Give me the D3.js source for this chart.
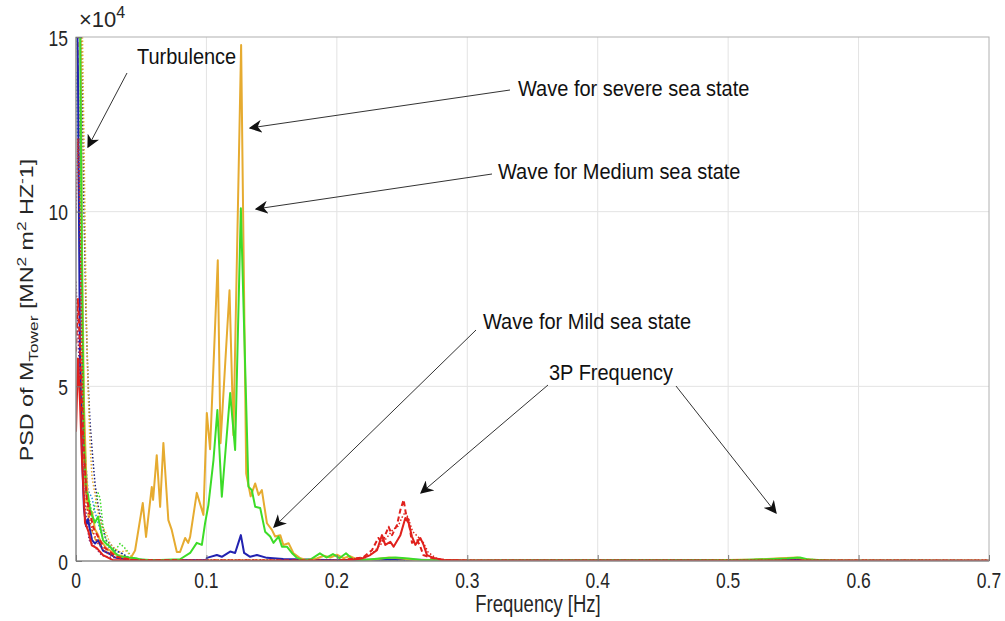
<!DOCTYPE html>
<html><head><meta charset="utf-8">
<script src="https://cdn.jsdelivr.net/npm/d3@7"></script>
<style>body{margin:0;background:#fff}svg{display:block;font-family:"Liberation Sans",Arial,sans-serif}</style>
</head><body><svg id="c" width="1005" height="621"></svg>
<script>
// values in units of 1e4 MN^2 m^2 Hz^-1
const xTicks = [0,0.1,0.2,0.3,0.4,0.5,0.6,0.7];
const yTicks = [0,5,10,15];

const severeF = [0,0.0015,0.003,0.0046,0.0061,0.0077,0.0092,0.0107,0.0123,0.0146,0.0169,0.0184,0.0207,0.023,0.0261,0.03,0.0338,0.0376,0.0414,0.0453,0.0512,0.0537,0.0581,0.0591,0.0619,0.0645,0.067,0.0708,0.0734,0.0773,0.0798,0.0837,0.086,0.0875,0.0926,0.0977,0.1003,0.1028,0.1087,0.1108,0.1177,0.1207,0.1266,0.1305,0.1339,0.1374,0.14,0.1425,0.1464,0.1502,0.1527,0.1566,0.159,0.163,0.1668,0.172,0.177,0.185,0.19,0.195,0.2,0.205,0.21,0.215,0.225,0.24,0.25,0.26,0.3,0.48,0.5,0.52,0.54,0.553,0.56,0.58,0.7];
const severeV = [22,24,18,9,4.5,2.6,1.7,1.3,1.4,0.9,0.75,0.6,0.5,0.38,0.3,0.2,0.12,0.1,0.05,0.3,1.66,0.69,2.12,1.75,3.03,1.55,3.38,1.17,0.89,0.26,0.26,0.66,0.52,0.69,1.95,1.32,4.24,3.2,8.61,3.37,7.75,3.6,14.77,2.5,1.85,2.22,1.89,2.03,1.08,0.89,0.7,0.74,0.46,0.51,0.22,0.08,0.02,0.08,0.15,0.1,0.18,0.08,0.14,0.05,0.03,0.1,0.07,0.03,0.01,0.01,0.03,0.04,0.08,0.1,0.04,0.01,0.01];

const mediumF = [0,0.0015,0.003,0.0046,0.0061,0.0077,0.0092,0.0107,0.0123,0.0146,0.0169,0.0184,0.0207,0.023,0.0261,0.03,0.0338,0.038,0.042,0.046,0.05,0.06,0.0798,0.0875,0.0926,0.0965,0.099,0.1015,0.1054,0.1084,0.1118,0.1182,0.122,0.1264,0.1322,0.1348,0.1374,0.1412,0.145,0.1489,0.1514,0.1553,0.1579,0.1617,0.1655,0.1694,0.1742,0.18,0.187,0.192,0.197,0.202,0.207,0.212,0.22,0.235,0.245,0.255,0.265,0.3,0.49,0.51,0.53,0.545,0.555,0.562,0.58,0.7];
const mediumV = [20,22,16,8,3.5,2.0,1.9,1.5,1.3,1.1,1.27,1.0,0.6,0.5,0.41,0.23,0.12,0.12,0.09,0.08,0.04,0.02,0.05,0.23,0.52,0.46,1.09,1.6,2.89,4.32,1.84,4.81,3.18,10.1,2.13,2.03,1.55,1.52,0.84,0.7,0.52,0.7,0.41,0.41,0.23,0.09,0.02,0.05,0.22,0.1,0.2,0.08,0.22,0.05,0.03,0.08,0.1,0.07,0.03,0.01,0.02,0.03,0.05,0.07,0.1,0.04,0.01,0.01];

const mildF = [0,0.0015,0.003,0.0046,0.0061,0.0077,0.0092,0.0107,0.0123,0.0146,0.0169,0.0207,0.026,0.03,0.04,0.06,0.1,0.1003,0.108,0.1118,0.1182,0.122,0.1264,0.1289,0.1335,0.1387,0.1464,0.1589,0.2,0.24,0.25,0.3,0.5,0.53,0.55,0.57,0.7];
const mildV = [18,14,6,3,1.5,1.0,1.2,0.9,0.6,0.5,0.6,0.3,0.2,0.1,0.04,0.02,0.02,0.09,0.17,0.12,0.27,0.23,0.74,0.23,0.12,0.17,0.09,0.06,0.02,0.04,0.04,0.01,0.02,0.03,0.05,0.01,0.005];

const noWaveF = [0,0.0015,0.003,0.0046,0.0069,0.0095,0.0121,0.016,0.0207,0.028,0.05,0.2,0.21,0.22,0.2256,0.2308,0.2346,0.2371,0.241,0.2435,0.2487,0.2525,0.255,0.2576,0.2602,0.264,0.2665,0.2691,0.2742,0.2817,0.3,0.7];
const noWaveV = [3.7,5.8,4.6,2.9,1.1,0.85,0.45,0.37,0.17,0.03,0.01,0.01,0.02,0.08,0.17,0.31,0.74,0.46,0.55,0.41,0.74,1.23,1.09,0.7,0.46,0.66,0.46,0.17,0.09,0.03,0.005,0.005];

const noWaveDashF = [0,0.0015,0.003,0.0056,0.0082,0.0133,0.021,0.031,0.045,0.2,0.22,0.2269,0.2318,0.2346,0.2397,0.2423,0.2461,0.2487,0.2512,0.2533,0.255,0.2576,0.2615,0.264,0.2663,0.272,0.283,0.3,0.7];
const noWaveDashV = [6,7.5,6.2,3.4,1.8,0.95,0.41,0.12,0.02,0.01,0.1,0.31,0.66,0.52,0.98,0.74,1.03,1.46,1.75,1.27,1.17,0.52,0.6,0.41,0.17,0.09,0.02,0.01,0.01];

const noWaveDotF = [0,0.0015,0.003,0.0046,0.0061,0.0077,0.0092,0.0123,0.0169,0.023,0.03,0.045,0.2,0.222,0.228,0.233,0.238,0.243,0.247,0.25,0.2525,0.255,0.258,0.262,0.266,0.27,0.276,0.285,0.3,0.7];
const noWaveDotV = [10,12.1,10,6,3.2,2.0,1.4,0.9,0.5,0.25,0.1,0.02,0.01,0.1,0.25,0.45,0.65,0.9,1.0,1.25,1.4,1.2,0.85,0.7,0.55,0.25,0.08,0.03,0.02,0.02];

const severeDotF = [0,0.003,0.0046,0.0061,0.0077,0.0092,0.0107,0.0123,0.0146,0.0169,0.02,0.023,0.0261,0.03,0.034,0.038,0.042,0.045,0.06,0.5,0.54,0.555,0.57,0.7];
const severeDotV = [20,19,16,12,7.5,5.0,3.4,2.4,1.9,1.4,1.0,0.8,0.5,0.35,0.25,0.3,0.15,0.05,0.02,0.02,0.06,0.08,0.02,0.01];

const severeDashF = [0,0.0015,0.003,0.0046,0.0061,0.0077,0.0107,0.015,0.02,0.025,0.03,0.035,0.04,0.05,0.7];
const severeDashV = [16,15,9,4.5,2.6,1.7,1.0,0.6,0.4,0.3,0.2,0.15,0.08,0.02,0.01];

const mildDotF = [0,0.003,0.0046,0.0061,0.0077,0.0092,0.0107,0.0123,0.0146,0.0169,0.0184,0.02,0.023,0.0261,0.03,0.034,0.038,0.042,0.05,0.7];
const mildDotV = [20,18,14,10,7,5.2,4.0,3.2,2.2,1.6,1.3,1.0,0.6,0.5,0.3,0.25,0.15,0.05,0.02,0.01];

const mediumDotF = [0,0.003,0.0046,0.0061,0.0077,0.0092,0.0107,0.0123,0.0146,0.0169,0.0184,0.0207,0.023,0.0261,0.03,0.0338,0.038,0.042,0.046,0.06,0.7];
const mediumDotV = [16,12,6,3.2,2.2,1.7,1.7,1.3,1.6,1.95,1.8,1.0,0.6,0.4,0.3,0.5,0.35,0.15,0.05,0.02,0.01];

const lightDotF = [0,0.003,0.0061,0.0092,0.0123,0.0146,0.0184,0.0207,0.0261,0.033,0.038,0.045,0.7];
const lightDotV = [14,9,3.5,2.03,1.8,1.4,0.9,0.6,0.35,0.25,0.15,0.03,0.01];

const purpleDotF = [0,0.003,0.006,0.01,0.02,0.04,0.1,0.2,0.7];
const purpleDotV = [8,5,2,0.6,0.15,0.03,0.01,0.01,0.005];

const series = [
  {f: purpleDotF, v: purpleDotV, color: "#7e2f8e", dash: "1.5,2", w: 1.5},
  {f: lightDotF, v: lightDotV, color: "#2f8fe0", dash: "1.5,2", w: 1.5},
  {f: mildDotF, v: mildDotV, color: "#1a1f7a", dash: "1.5,2", w: 1.5},
  {f: mediumDotF, v: mediumDotV, color: "#3cdc28", dash: "1.5,2", w: 1.5},
  {f: severeDotF, v: severeDotV, color: "#e6ab30", dash: "1.5,2", w: 1.5},
  {f: severeDashF, v: severeDashV, color: "#e6ab30", dash: "5,3", w: 1.5},
  {f: mildF, v: mildV, color: "#2222b0", dash: null, w: 2},
  {f: severeF, v: severeV, color: "#e6ab30", dash: null, w: 2},
  {f: mediumF, v: mediumV, color: "#3cdc28", dash: null, w: 2},
  {f: noWaveDotF, v: noWaveDotV, color: "#d9261c", dash: "1.5,2", w: 1.5},
  {f: noWaveDashF, v: noWaveDashV, color: "#e0201c", dash: "5,3", w: 2},
  {f: noWaveF, v: noWaveV, color: "#e0201c", dash: null, w: 2}
];

const svg = d3.select("#c");
const L = 76, R = 989, T = 37, B = 561;
const x = d3.scaleLinear().domain([0,0.7]).range([L,R]);
const y = d3.scaleLinear().domain([0,15]).range([B,T]);
const SY = 1.28; // vertical stretch of the reference's text

function label(px, py, str, size, anchor, sy) {
  return svg.append("text")
    .attr("transform", `translate(${px},${py}) scale(1,${sy})`)
    .attr("text-anchor", anchor).attr("font-size", size).attr("fill", "#262626").text(str);
}

// grid
const g = svg.append("g");
g.selectAll(".gx").data(xTicks.slice(1,-1)).join("line")
  .attr("x1", d=>x(d)).attr("x2", d=>x(d)).attr("y1", T).attr("y2", B)
  .attr("stroke", "#e3e3e3").attr("stroke-width", 1);
g.selectAll(".gy").data(yTicks.slice(1,-1)).join("line")
  .attr("x1", L).attr("x2", R).attr("y1", d=>y(d)).attr("y2", d=>y(d))
  .attr("stroke", "#e3e3e3").attr("stroke-width", 1);

// clip
svg.append("clipPath").attr("id","clip").append("rect")
  .attr("x", L).attr("y", T).attr("width", R-L).attr("height", B-T);

const line = d3.line().x(d=>x(d[0])).y(d=>y(d[1]));
const lg = svg.append("g").attr("clip-path","url(#clip)");
series.forEach(s => {
  const pts = s.f.map((f,i)=>[f, s.v[i]]);
  lg.append("path").attr("d", line(pts)).attr("fill","none")
    .attr("stroke", s.color).attr("stroke-width", s.w)
    .attr("stroke-dasharray", s.dash).attr("stroke-linejoin","round");
});

// box
svg.append("rect").attr("x", L).attr("y", T).attr("width", R-L).attr("height", B-T)
  .attr("fill","none").attr("stroke","#b0b0b0").attr("stroke-width",1);
svg.append("line").attr("x1",L).attr("x2",L).attr("y1",T).attr("y2",B).attr("stroke","#7a7a7a");
svg.append("line").attr("x1",L).attr("x2",R).attr("y1",B).attr("y2",B).attr("stroke","#7a7a7a");

// axes (tick marks from d3, labels stretched like the reference)
const ax = svg.append("g").attr("transform",`translate(0,${B})`)
  .call(d3.axisBottom(x).tickValues(xTicks).tickSize(-6).tickFormat(""));
ax.select(".domain").remove();
ax.selectAll("line").attr("stroke","#7a7a7a");
const ay = svg.append("g").attr("transform",`translate(${L},0)`)
  .call(d3.axisLeft(y).tickValues(yTicks).tickSize(-6).tickFormat(""));
ay.select(".domain").remove();
ay.selectAll("line").attr("stroke","#7a7a7a");
const fmt = d3.format(".1~f");
xTicks.forEach(t => label(x(t), 588, fmt(t), 17.5, "middle", SY));
yTicks.forEach(t => label(L-8, y(t)+8.5, String(t), 17.5, "end", SY));

// exponent
const ex = svg.append("text").attr("transform","translate(79,27)").attr("font-size",22).attr("fill","#262626");
ex.append("tspan").text("\u00d710");
ex.append("tspan").attr("dy",-9).attr("font-size",16).text("4");

// axis labels
label(538, 612, "Frequency [Hz]", 18.5, "middle", SY);
const yl = svg.append("text").attr("transform",`translate(33,310) rotate(-90) scale(${1.33},1)`)
  .attr("text-anchor","middle").attr("font-size",17.5).attr("fill","#262626");
yl.append("tspan").text("PSD of M");
yl.append("tspan").attr("dy",5).attr("font-size",13).text("Tower");
yl.append("tspan").attr("dy",-5).text(" [MN");
yl.append("tspan").attr("dy",-7).attr("font-size",13).text("2");
yl.append("tspan").attr("dy",7).text(" m");
yl.append("tspan").attr("dy",-7).attr("font-size",13).text("2");
yl.append("tspan").attr("dy",7).text(" HZ");
yl.append("tspan").attr("dy",-7).attr("font-size",13).text("-");
yl.append("tspan").attr("dy",7).text("1]");

// annotations
const annTexts = ["Turbulence","Wave for severe sea state","Wave for Medium sea state","Wave for Mild sea state","3P Frequency"];
const annPos = [[137,64],[518,96],[498,179],[483,329],[549,380]];
annTexts.forEach((t,i)=>{
  svg.append("text").attr("transform",`translate(${annPos[i][0]},${annPos[i][1]}) scale(1.0,1.08)`)
    .attr("font-size",20).attr("fill","#111").text(t);
});
const arrows = [[127,73,88,147],[510,90,250,128],[492,174,256,209],[476,330,274,527],[548,385,421,493],[676,386,776,513]];
svg.append("defs").append("marker").attr("id","ah").attr("viewBox","0 0 10 10").attr("refX",9).attr("refY",5)
  .attr("markerWidth",13).attr("markerHeight",13).attr("markerUnits","userSpaceOnUse").attr("orient","auto")
  .append("path").attr("d","M0,0 L10,5 L0,10 L3,5 Z").attr("fill","#111");
arrows.forEach(a=>{
  svg.append("line").attr("x1",a[0]).attr("y1",a[1]).attr("x2",a[2]).attr("y2",a[3])
    .attr("stroke","#333").attr("stroke-width",1).attr("marker-end","url(#ah)");
});
</script></body></html>
